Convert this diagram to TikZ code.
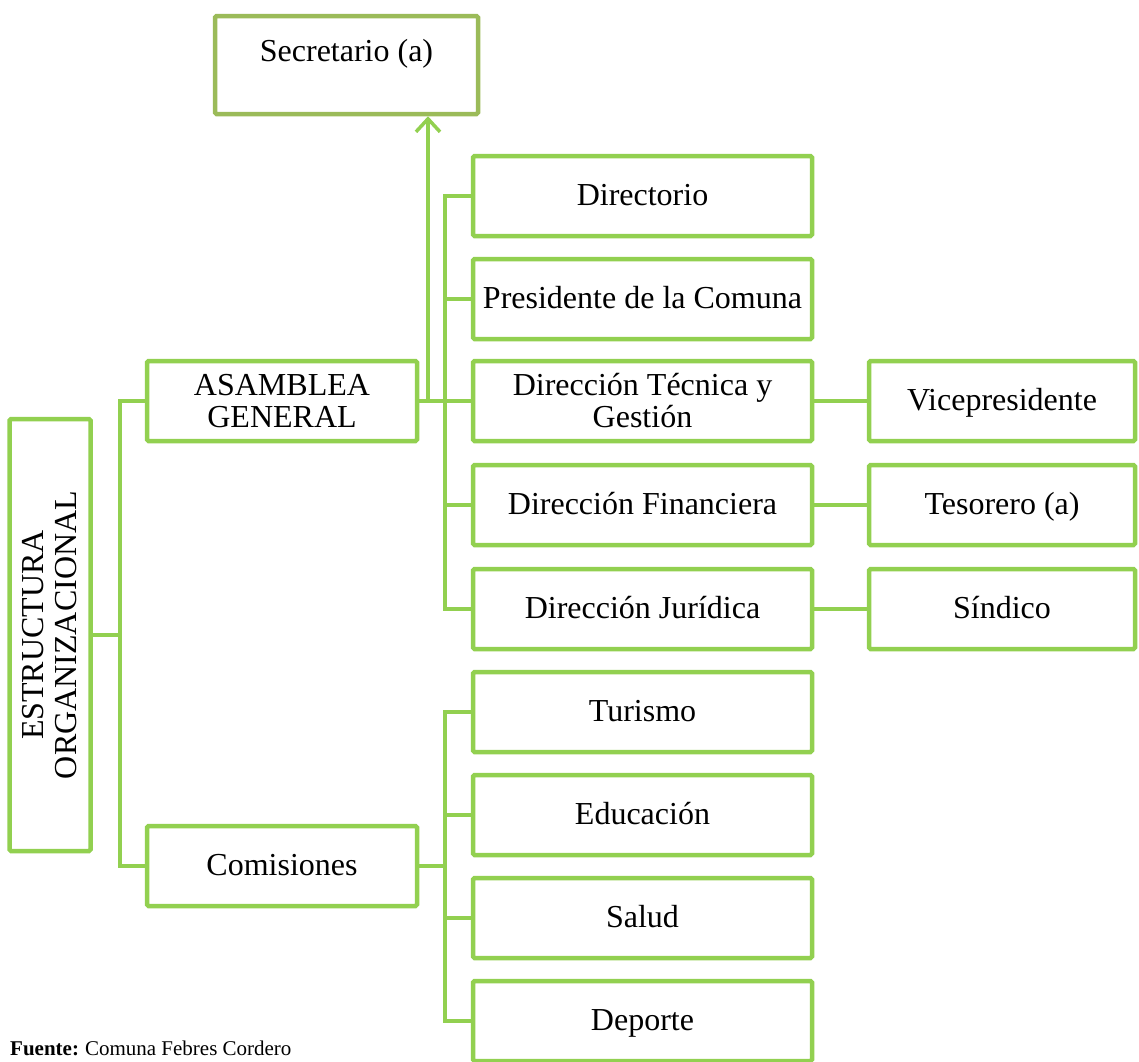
\documentclass[tikz,border=0pt]{standalone}
\usepackage{fontspec}
\setmainfont{Liberation Serif}
\usetikzlibrary{arrows.meta}
\definecolor{gr}{HTML}{92D050}
\definecolor{olv}{HTML}{9BBB59}
\tikzset{
  box/.style={draw=gr, line width=4.5pt, rounded corners=1.5pt, inner sep=0pt, align=center,
    font=\fontsize{32}{32}\selectfont, text=black},
  one/.style={text height=23pt, text depth=4pt},
  colbox/.style={box, minimum width=339pt, minimum height=80pt},
  sidebox/.style={box, one, minimum width=266pt, minimum height=80pt},
  midbox/.style={box, minimum width=270pt, minimum height=80pt},
  conn/.style={draw=gr, line width=4pt},
}
\begin{document}
\begin{tikzpicture}[x=1pt,y=-1pt]
\useasboundingbox (0,0) rectangle (1139,1061);
% boxes
\node[box, draw=olv, minimum width=263pt, minimum height=98pt] (sec) at (346.5,65) {};
\node[font=\fontsize{32}{32}\selectfont, one] (sect) at (346.5,52) {Secretario (a)};
\node[box, minimum width=432pt, minimum height=81pt, rotate=90, font=\fontsize{32}{33}\selectfont] (est) at (50,635) {ESTRUCTURA\\ORGANIZACIONAL};
\node[midbox] (asam) at (282,401) {ASAMBLEA\\GENERAL};
\node[midbox, one] (com) at (282,866) {Comisiones};
\node[colbox, one] (dir) at (642.5,196) {Directorio};
\node[colbox, one] (pres) at (642.5,299) {Presidente de la Comuna};
\node[colbox] (tec) at (642.5,401) {Dirección Técnica y\\Gestión};
\node[colbox, one] (fin) at (642.5,505) {Dirección Financiera};
\node[colbox, one] (jur) at (642.5,609) {Dirección Jurídica};
\node[colbox, one] (tur) at (642.5,712) {Turismo};
\node[colbox, one] (edu) at (642.5,815) {Educación};
\node[colbox, one] (sal) at (642.5,918) {Salud};
\node[colbox, one] (dep) at (642.5,1021) {Deporte};
\node[sidebox] (vice) at (1002,401) {Vicepresidente};
\node[sidebox] (tes) at (1002,505) {Tesorero (a)};
\node[sidebox] (sin) at (1002,609) {Síndico};
% connectors
\coordinate (b1) at (120,401);
\coordinate (b2) at (445,401);
\coordinate (b3) at (445,866);
\coordinate (a1) at (428,401);
\coordinate (eR) at (91,635);
\draw[conn] (eR) -- (eR -| b1);
\draw[conn] (asam.west) -| (b1) |- (com.west);
\draw[conn] (asam.east) -- (b2);
\draw[conn] (dir.west) -| (b2) |- (jur.west);
\draw[conn] (pres.west) -- (pres.west -| b2);
\draw[conn] (tec.west) -- (b2);
\draw[conn] (fin.west) -- (fin.west -| b2);
\draw[conn] (com.east) -- (b3);
\draw[conn] (tur.west) -| (b3) |- (dep.west);
\draw[conn] (edu.west) -- (edu.west -| b3);
\draw[conn] (sal.west) -- (sal.west -| b3);
\draw[conn] (tec.east) -- (vice.west);
\draw[conn] (fin.east) -- (tes.west);
\draw[conn] (jur.east) -- (sin.west);
\draw[conn, line width=3.5pt, -{Straight Barb[length=13pt,width=24pt,line width=3.5pt]}] (a1) -- (a1 |- sec.south);
% source
\node[anchor=base west, inner sep=0pt, font=\fontsize{21}{21}\selectfont] (src) at (10,1055) {\textbf{Fuente:}\hspace{-1pt} Comuna Febres Cordero};
\end{tikzpicture}
\end{document}
